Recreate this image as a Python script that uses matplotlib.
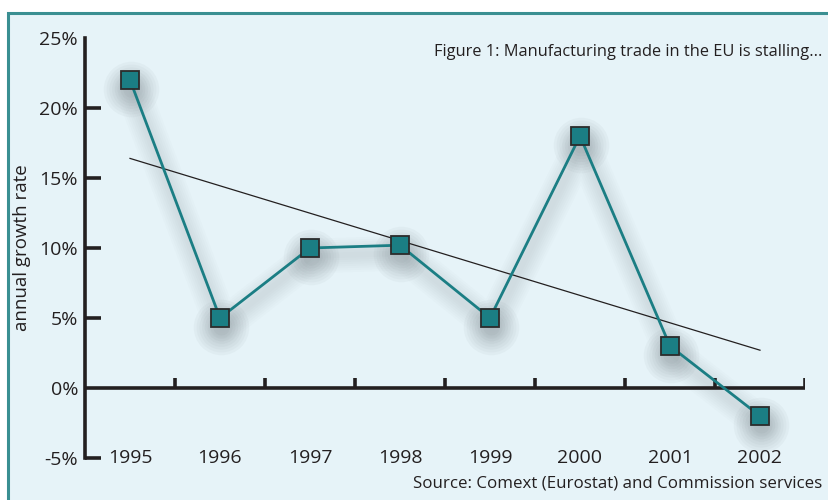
import numpy as np
import matplotlib.pyplot as plt
from matplotlib.patches import Rectangle
from matplotlib import transforms

plt.rcParams['font.family'] = ['Open Sans', 'DejaVu Sans']

years = ['1995', '1996', '1997', '1998', '1999', '2000', '2001', '2002']
growth = [22.0, 5.0, 10.0, 10.2, 5.0, 18.0, 3.0, -2.0]
trend_start, trend_end = 16.4, 2.7
yticks = [-5, 0, 5, 10, 15, 20, 25]

teal = '#1b7e84'
ink = '#231f20'
bg = '#e6f3f8'

fig = plt.figure(figsize=(8.29, 5), dpi=100)
fig.patches.append(Rectangle((8/829, -0.1), 1.1, 1 - 13/500 + 0.1, transform=fig.transFigure,
                             facecolor=bg, edgecolor='#3a8f92', linewidth=2.2, zorder=-5))

ax = fig.add_axes([85/829, 42/500, 720/829, 420/500])
ax.set_facecolor('none')
x = np.arange(len(years))
ax.set_xlim(-0.5, len(years) - 0.5)
ax.set_ylim(-5, 25)

# soft shadows
for k in range(8):
    off = transforms.offset_copy(ax.transData, fig=fig, x=1, y=-9, units='dots')
    ax.scatter(x, growth, s=(12 + k*4)**2, color='#6f7a80', alpha=0.05, linewidths=0,
               transform=off, zorder=1)
    off2 = transforms.offset_copy(ax.transData, fig=fig, x=2, y=-8, units='dots')
    ax.plot(x, growth, color='#7f8a90', alpha=0.025, lw=4 + k*3, solid_capstyle='round',
            transform=off2, zorder=1)

ax.plot([x[0], x[-1]], [trend_start, trend_end], color=ink, lw=0.9, zorder=2)
ax.plot(x, growth, color=teal, lw=2.0, zorder=3)
ax.plot(x, growth, ls='none', marker='s', ms=12.5, mfc=teal, mec='#2b2b2b', mew=1.3, zorder=4)

# axes
for s in ['top', 'right', 'bottom']:
    ax.spines[s].set_visible(False)
ax.spines['left'].set_linewidth(2.6)
ax.spines['left'].set_color(ink)
ax.axhline(0, color=ink, lw=2.6, zorder=2)
ax.vlines(np.arange(0.5, len(years)), 0, 0.75, color=ink, lw=2.6, zorder=2)
ax.plot([-0.5, -0.32], [-5, -5], color=ink, lw=2.6, solid_capstyle='butt', clip_on=False)
ax.hlines([5, 10, 15, 20], -0.5, -0.32, color=ink, lw=2.6, zorder=2)

ax.set_yticks(yticks)
ax.set_yticklabels([f'{v}%' for v in yticks], fontsize=14, color=ink)
ax.tick_params(axis='y', length=0, pad=5)
ax.set_xticks([])
for i, yr in enumerate(years):
    ax.text(i, -5, yr, ha='center', va='center', fontsize=14, color=ink)

ax.set_ylabel('annual growth rate', fontsize=13.5, color=ink)
ax.yaxis.set_label_coords(-0.075, 0.5)

fig.text(822/829, 1 - 52/500, 'Figure 1: Manufacturing trade in the EU is stalling...',
         ha='right', va='center', fontsize=11.8, color=ink)
fig.text(822/829, 1 - 483/500, 'Source: Comext (Eurostat) and Commission services',
         ha='right', va='center', fontsize=12.2, color=ink)

fig.savefig('out.png', dpi=100)
